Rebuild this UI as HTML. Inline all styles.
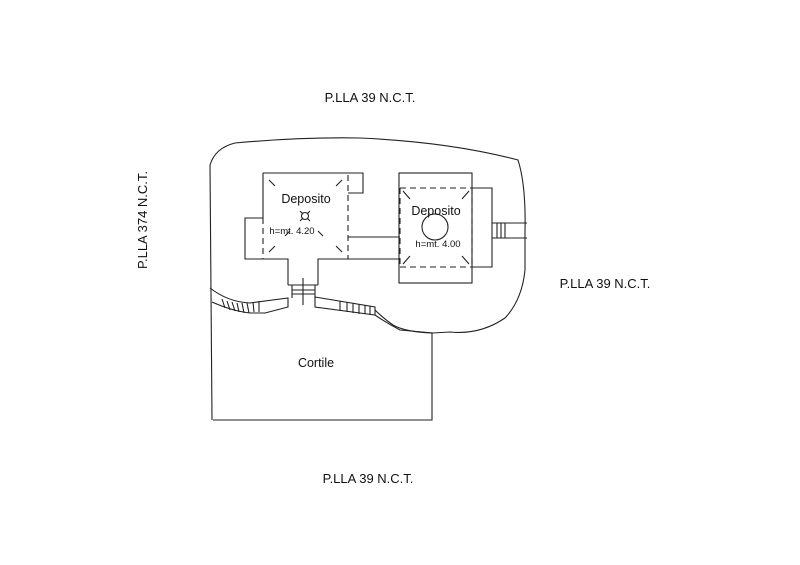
<!DOCTYPE html>
<html><head><style>body{margin:0;background:#fff}svg{display:block}text{font-family:"Liberation Sans",sans-serif;fill:#111}</style></head>
<body>
<svg width="800" height="565" viewBox="0 0 800 565" xmlns="http://www.w3.org/2000/svg">
<g fill="none" stroke="#222" stroke-width="1.1">
<path d="M212,420 L210,165 Q215,148 235,143 Q300,137 360,138 Q450,142 518,160 Q526,185 525,230 L525,270 Q522,300 505,318 Q480,335 450,332 L433,333 Q405,332 393,325 Q383,318 375,310"/>
<path d="M213,420 L432,420 L432,333"/>
<path d="M263,173 L348,173 M263,173 L263,218 M348,173 L363,173 L363,193 L348,193"/>
<path d="M263,218 L245,218 L245,259 L288,259 L288,285 M318,285 L318,259 L400,259"/>
<path d="M348,237 L400,237"/>
<path d="M348,175 L348,259 M263,218 L263,259" stroke-dasharray="6,4"/>
<path d="M269,180 L275,186 M342,180 L336,186 M269,252 L275,246 M342,252 L336,246 M285,236 L290,231 M323,236 L318,231 M300,211 L303,214 M310,211 L307,214 M300,221 L303,218 M310,221 L307,218"/>
<circle cx="305" cy="216" r="3.5"/>
<path d="M292,285 L292,298 M315,285 L315,298 M292,290 L315,290 M292,294 L315,294 M303,278 L303,305 M288,285 L318,285"/>
<rect x="399" y="173" width="73" height="110"/>
<path d="M472,188 L492,188 L492,267 L472,267"/>
<path d="M400,188 L472,188 M400,267 L472,267 M400,188 L400,267 M472,188 L472,267" stroke-dasharray="6,4"/>
<path d="M403,191 L410,199 M469,191 L462,199 M403,264 L410,256 M469,264 L462,256"/>
<circle cx="435" cy="227" r="13"/>
<path d="M492,223 L527,223 M492,238 L527,238 M497,223 L497,238 M501,223 L501,238 M505,223 L505,238"/>
<path d="M210,288 Q228,302 250,303 L288,298 L288,307 L265,313 L250,313 Q232,311 212,302"/>
<path d="M222,299 L225,308 M227,301 L230,310 M232,302 L235,311 M237,303 L239,312 M242,303 L244,313 M247,303 L249,313 M253,302 L254,312 M259,301 L259,312"/>
<path d="M315,297 L375,307 L375,315 L315,307 Z"/>
<path d="M340,301 L340,311 M347,302 L347,312 M353,303 L353,313 M359,304 L359,314 M365,305 L365,314 M370,306 L370,315"/>
<path d="M375,315 Q385,322 400,330 L433,333"/>
</g>
<g font-size="12.5">
<text x="306" y="203" text-anchor="middle">Deposito</text>
<text x="436" y="215" text-anchor="middle">Deposito</text>
<text x="316" y="367" text-anchor="middle">Cortile</text>
</g>
<g font-size="13">
<text x="370" y="102" text-anchor="middle">P.LLA 39 N.C.T.</text>
<text x="605" y="288" text-anchor="middle">P.LLA 39 N.C.T.</text>
<text x="368" y="483" text-anchor="middle">P.LLA 39 N.C.T.</text>
<text x="0" y="0" text-anchor="middle" transform="translate(147,220) rotate(-90)">P.LLA 374 N.C.T.</text>
</g>
<g font-size="9.5">
<text x="292" y="234" text-anchor="middle">h=mt. 4.20</text>
<text x="438" y="247" text-anchor="middle">h=mt. 4.00</text>
</g>
</svg>
</body></html>
